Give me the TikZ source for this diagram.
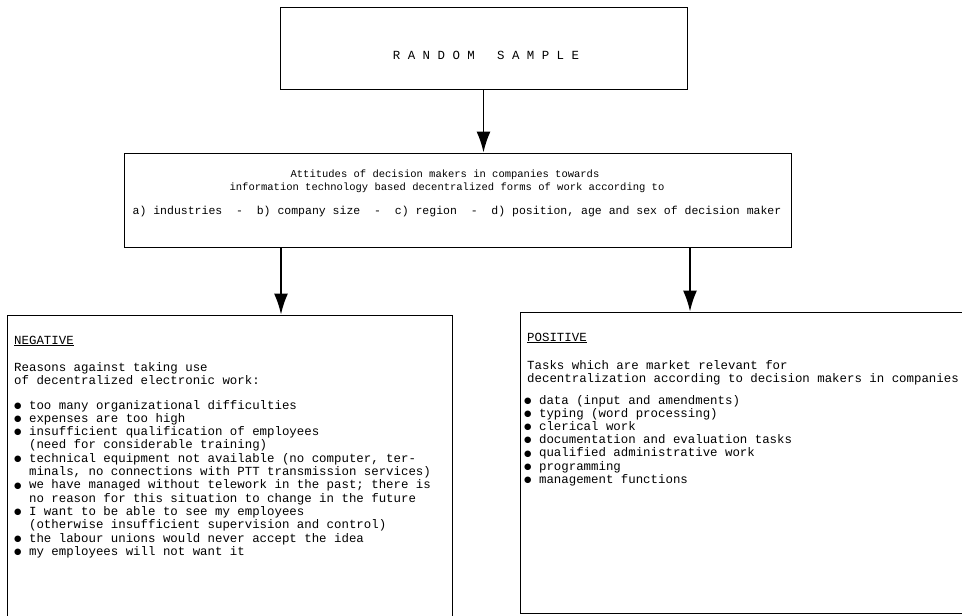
\documentclass[tikz,border=0pt]{standalone}
\usepackage{fontspec}
\setmainfont{Liberation Mono}
\newfontfamily\symfont{DejaVu Sans}
\usetikzlibrary{arrows.meta}
\newcommand\bul{\makebox[0.6em][c]{\raisebox{0.8pt}{\symfont\fontsize{8.5}{13}\selectfont ●}}}
\newcommand\lines[2]{\parbox[t]{#1}{\lineskiplimit=-100pt\relax\raggedright #2}}
\tikzset{
  box/.style={draw, line width=0.9pt, rectangle, inner sep=0pt},
  arr/.style={line width=1.8pt, -{Latex[length=21pt,width=14pt]}},
  txt/.style={anchor=base west, inner sep=0pt, font=\fontsize{12.4}{13.3}\selectfont},
  mtxt/.style={anchor=base, inner sep=0pt, font=\fontsize{10.5}{12}\selectfont},
}
\begin{document}
\begin{tikzpicture}[x=1pt,y=-1pt]
\useasboundingbox (0,0) rectangle (962,616);
\clip (0,0) rectangle (962,616);

% boxes
\node[box, minimum width=407pt, minimum height=82pt] (rand) at (483.5,48) {};
\node[box, minimum width=667pt, minimum height=94pt] (mid) at (457.5,200) {};
\node[box, minimum width=445pt, minimum height=350pt] (neg) at (229.5,490) {};
\node[box, minimum width=490pt, minimum height=301pt] (pos) at (765,462.5) {};

% random sample text
\node[txt, anchor=base] (randt) at (486,59) {R A N D O M~~~S A M P L E};

% middle text
\node[mtxt] (m1) at (445,177) {Attitudes of decision makers in companies towards};
\node[mtxt] (m2) at (447,190) {information technology based decentralized forms of work according to};
\node[mtxt, font=\fontsize{11.5}{13}\selectfont] (m3) at (457,214) {a) industries~~-~~b) company size~~-~~c) region~~-~~d) position, age and sex of decision maker};

% arrows
\coordinate (la) at (281,0);
\coordinate (ra) at (690,0);
\draw[arr] (rand.south) -- (mid.north -| rand.south);
\draw[arr] (mid.south -| la) -- (neg.north -| la);
\draw[arr] (mid.south -| ra) -- (pos.north -| ra);

% negative box
\node[txt] (nh) at (14,344) {\underline{NEGATIVE}};
\node[txt] (ni) at (14,371) {\lines{430pt}{Reasons against taking use\\
of decentralized electronic work:}};
\node[txt] (nl) at (14,409) {\lines{436pt}{%
\bul~too many organizational difficulties\\
\bul~expenses are too high\\
\bul~insufficient qualification of employees\\
~~(need for considerable training)\\
\bul~technical equipment not available (no computer, ter-\\
~~minals, no connections with PTT transmission services)\\
\bul~we have managed without telework in the past; there is\\
~~no reason for this situation to change in the future\\
\bul~I want to be able to see my employees\\
~~(otherwise insufficient supervision and control)\\
\bul~the labour unions would never accept the idea\\
\bul~my employees will not want it}};

% positive box
\node[txt] (ph) at (527,341) {\underline{POSITIVE}};
\node[txt] (pi) at (527,369) {\lines{440pt}{Tasks which are market relevant for\\
decentralization according to decision makers in companies}};
\node[txt, font=\fontsize{12.4}{13.2}\selectfont] (pl) at (524,404) {\lines{430pt}{%
\bul~data (input and amendments)\\
\bul~typing (word processing)\\
\bul~clerical work\\
\bul~documentation and evaluation tasks\\
\bul~qualified administrative work\\
\bul~programming\\
\bul~management functions}};
\end{tikzpicture}
\end{document}
